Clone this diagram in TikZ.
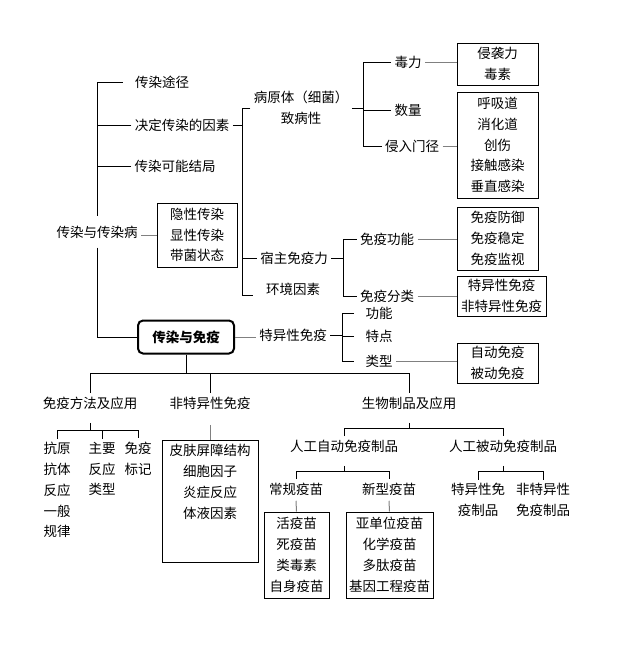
\documentclass[tikz,border=0pt]{standalone}
\usepackage{fontspec}
\setmainfont{Noto Sans CJK SC}
\usepackage{tikz}
\usetikzlibrary{calc}

\begin{document}
\begin{tikzpicture}[x=1pt, y=-1pt, line width=1pt,
  every node/.style={font=\fontsize{13.5}{20.8}\selectfont, inner sep=3pt, align=center},
  box/.style={draw, inner sep=2pt},
  keybox/.style={draw, line width=2pt, rounded corners=5pt, font=\fontsize{13.5}{20.8}\selectfont\bfseries, minimum width=96, minimum height=33},
  gline/.style={gray}]
\useasboundingbox (0,0) rectangle (618,656);
\node (tjtj) at (162,82) {传染途径};
\node (jdyy) at (182,125) {决定传染的因素};
\node (knjj) at (175,166) {传染可能结局};
\node[inner ysep=9pt] (crb) at (97,232) {传染与传染病};
\node[box, minimum width=80, minimum height=64] (yxbox) at (197,235) {隐性传染\\显性传染\\带菌状态};
\node[keybox] (cry) at (186,337) {传染与免疫};
\node (byt) at (301,108) {病原体（细菌）\\致病性};
\node (dl) at (408,62) {毒力};
\node (sl) at (408,110) {数量};
\node (qrmj) at (412,146) {侵入门径};
\node[box, minimum width=81, minimum height=42] (qxbox) at (497.5,64) {侵袭力\\毒素};
\node[box, minimum width=81, minimum height=106] (hxbox) at (497.5,145) {呼吸道\\消化道\\创伤\\接触感染\\垂直感染};
\node (szmy) at (294,258) {宿主免疫力};
\node (hjys) at (293,289) {环境因素};
\node (tyx) at (293,335) {特异性免疫};
\node (mygn) at (387,239) {免疫功能};
\node (myfl) at (387,296) {免疫分类};
\node[box, minimum width=81, minimum height=63] (fybox) at (497.5,238.5) {免疫防御\\免疫稳定\\免疫监视};
\node[box, minimum width=89, minimum height=40, inner xsep=0pt] (flbox) at (501.5,296) {特异性免疫\\非特异性免疫};
\node (gn) at (379,313) {功能};
\node (td) at (379,336) {特点};
\node (lx) at (379,361) {类型};
\node[box, minimum width=81, minimum height=40] (zdbox) at (497.5,363) {自动免疫\\被动免疫};
\node (fyff) at (90,403) {免疫方法及应用};
\node (ftyx) at (210,403) {非特异性免疫};
\node (swzp) at (409,403) {生物制品及应用};
\node (kyuan) at (57,490) {抗原\\抗体\\反应\\一般\\规律};
\node (zyao) at (102,469) {主要\\反应\\类型};
\node (mybj) at (138,458.5) {免疫\\标记};
\node[box, minimum width=96, anchor=north, text depth=40pt, inner ysep=4pt] (pfbox) at (210,440) {皮肤屏障结构\\细胞因子\\炎症反应\\体液因素};
\node (rgzd) at (344,446) {人工自动免疫制品};
\node (rgbd) at (503,446) {人工被动免疫制品};
\node (cgym) at (296,489) {常规疫苗};
\node (xxym) at (389,489) {新型疫苗};
\node[box, minimum width=65, minimum height=86, inner xsep=0pt] (hymbox) at (296.5,555) {活疫苗\\死疫苗\\类毒素\\自身疫苗};
\node[box, minimum width=87, minimum height=86, inner xsep=0pt] (yabox) at (389.5,555) {亚单位疫苗\\化学疫苗\\多肽疫苗\\基因工程疫苗};
\node (tyzp) at (478,500) {特异性免\\疫制品};
\node (ftyzp) at (543,500) {非特异性\\免疫制品};
\draw ([xshift=-9pt]tjtj.west) -| (crb.north);
\draw (jdyy.west) -- (jdyy.west -| crb);
\draw (knjj.west) -- (knjj.west -| crb);
\draw (crb.south) |- (cry.west);
\draw[gline] (yxbox.west) -- (yxbox.west -| crb.east);
\draw (jdyy.east) -- ++(10,0) coordinate (sp1);
\draw (byt.west) -| (sp1) |- ([xshift=-10pt,yshift=-6pt]hjys.west);
\draw (szmy.west) -- (szmy.west -| sp1);
\draw (byt.east) -- ++(12,0) coordinate (sp2);
\draw (dl.west) -| (sp2) |- (qrmj.west);
\draw (sl.west) -- (sl.west -| sp2);
\draw[gline] (dl.east) -- (dl.east -| qxbox.west);
\draw[gline] (qrmj.east) -- (qrmj.east -| hxbox.west);
\draw (szmy.east) -- ++(12,0) coordinate (sp3);
\draw (mygn.west) -| (sp3) |- (myfl.west);
\draw[gline] (mygn.east) -- (mygn.east -| fybox.west);
\draw[gline] (myfl.east) -- (myfl.east -| flbox.west);
\draw[gline] (cry.east) -- (cry.east -| tyx.west);
\draw (tyx.east) -- ++(12,0) coordinate (sp4);
\draw ([xshift=-8pt]gn.west) -| (sp4) |- ([xshift=-8pt]lx.west);
\draw ([xshift=-8pt]td.west) -- (td.west -| sp4);
\draw[gline] (lx.east) -- (lx.east -| zdbox.west);
\draw (cry.south) -- ++(0,19) coordinate (j1);
\draw (fyff.north) |- (j1) -| (swzp.north);
\draw (ftyx.north) -- (ftyx.north |- j1);
\draw ([yshift=-10pt]fyff.south) -- ++(0,8) coordinate (j2);
\draw (kyuan.north) |- (j2) -| (mybj.north);
\draw (zyao.north) -- (zyao.north |- j2);
\draw[gline] ([yshift=-12pt]ftyx.south) -- (pfbox.north);
\draw ([yshift=-10pt]swzp.south) -- ++(0,6) coordinate (j3);
\draw (rgzd.north) |- (j3) -| (rgbd.north);
\draw ([yshift=-10pt]rgzd.south) -- ++(0,6) coordinate (j4);
\draw (cgym.north) |- (j4) -| (xxym.north);
\draw[gline] ([yshift=-2pt]cgym.south) -- (hymbox.north);
\draw[gline] ([yshift=-2pt]xxym.south) -- (yabox.north);
\draw ([yshift=-10pt]rgbd.south) -- ++(0,6) coordinate (j5);
\draw (tyzp.north) |- (j5) -| (ftyzp.north);
\end{tikzpicture}
\end{document}
